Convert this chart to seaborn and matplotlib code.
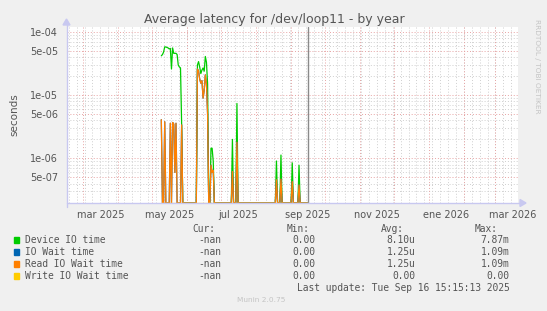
import matplotlib
matplotlib.use("Agg")
import numpy as np
import pandas as pd
import seaborn as sns
import matplotlib.pyplot as plt
from matplotlib.patches import Rectangle, Polygon
from matplotlib.lines import Line2D

# ---------------- data ----------------
series_names = ["Device IO time", "IO Wait time", "Read IO Wait time", "Write IO Wait time"]
series_colors = ["#00cc00", "#0066b3", "#ff8000", "#ffcc00"]

data_start = "2025-05-09"
data_end = "2025-09-16"

cluster1_start = "2025-05-09"
cluster1_device = [4.2e-5, 4.4e-5, 4.8e-5, 5.8e-5, 5.8e-5, 5.7e-5, 5.6e-5, 5.4e-5, 5.5e-5, 2.6e-5,
                   5.6e-5, 4.6e-5, 4.6e-5, 4.6e-5, 4.4e-5, 3.0e-5, 2.8e-5, 2.7e-5, 3.5e-6, 0.0]
cluster1_read = [4.1e-6, 0.0, 0.0, 3.8e-6, 0.0, 0.0, 0.0, 0.0, 3.6e-6, 0.0,
                 3.7e-6, 3.5e-6, 6.0e-7, 3.6e-6, 0.0, 0.0, 0.0, 0.0, 3.4e-6, 0.0]

cluster2_start = "2025-06-09"
cluster2_device = [0.0, 3.0e-5, 3.4e-5, 2.8e-5, 2.2e-5, 2.5e-5, 2.7e-5, 2.4e-5, 4.1e-5, 3.3e-5,
                   1.5e-5, 0.0, 0.0, 1.45e-6, 1.45e-6, 9.0e-7, 0.0]
cluster2_read = [0.0, 2.6e-5, 2.4e-5, 1.8e-5, 1.55e-5, 1.7e-5, 9.0e-6, 1.2e-5, 2.1e-5, 1.5e-5,
                 5.0e-6, 0.0, 0.0, 7.8e-7, 6.0e-7, 6.5e-7, 0.0]

spike_dates = ["2025-07-11", "2025-07-15", "2025-08-19", "2025-08-23", "2025-09-02", "2025-09-08"]
spike_device = [2.0e-6, 7.4e-6, 9.1e-7, 1.13e-6, 8.5e-7, 7.8e-7]
spike_read = [6.2e-7, 1.8e-6, 4.6e-7, 4.7e-7, 4.3e-7, 3.8e-7]

now_date = "2025-09-16"
x_start, x_end = "2025-02-14", "2026-03-21"
x_label_dates = ["2025-03-16", "2025-05-16", "2025-07-16", "2025-09-16",
                 "2025-11-16", "2026-01-16", "2026-03-16"]
x_label_texts = ["mar 2025", "may 2025", "jul 2025", "sep 2025", "nov 2025", "ene 2026", "mar 2026"]
y_min, y_max = 1.97e-7, 1.2e-4
y_major = [1e-4, 5e-5, 1e-5, 5e-6, 1e-6, 5e-7]

legend_cur = ["-nan", "-nan", "-nan", "-nan"]
legend_min = ["0.00", "0.00", "0.00", "0.00"]
legend_avg = ["8.10u", "1.25u", "1.25u", "0.00"]
legend_max = ["7.87m", "1.09m", "1.09m", "0.00"]

# ---------------- build series ----------------
days = pd.date_range(data_start, data_end, freq="D")
device = pd.Series(0.0, index=days)
read = pd.Series(0.0, index=days)
c1 = pd.date_range(cluster1_start, periods=len(cluster1_device), freq="D")
device[c1] = cluster1_device
read[c1] = cluster1_read
c2 = pd.date_range(cluster2_start, periods=len(cluster2_device), freq="D")
device[c2] = cluster2_device
read[c2] = cluster2_read
sd = pd.to_datetime(spike_dates)
device[sd] = spike_device
read[sd] = spike_read
iowait = read.copy()
write = pd.Series(0.0, index=days)

frames = []
for name, s in zip(series_names, [device, iowait, read, write]):
    frames.append(pd.DataFrame({"date": days, "value": s.values, "series": name}))
long = pd.concat(frames, ignore_index=True)
# zero values are shown on the bottom edge of the log axis, as rrdtool does
long["plot"] = long["value"].where(long["value"] > 0, y_min)

# ---------------- figure ----------------
sns.set_theme(style="white")
plt.rcParams["font.family"] = ["DejaVu Sans"]
W, H = 547, 311
fig = plt.figure(figsize=(W / 100, H / 100), dpi=100, facecolor="#f0f0f0")

def fx(x):
    return x / W

def fy(y):
    return 1 - y / H

L, R, T, B = 66.5, 518, 27, 203
ax = fig.add_axes([fx(L), fy(B), fx(R) - fx(L), fy(T) - fy(B)])
ax.set_facecolor("white")

grid_red = "#e7a3a3"
grid_gray = "#cfcfcf"
dot = (0, (1, 2))

ax.set_yscale("log")
ax.set_ylim(y_min, y_max)
ax.set_xlim(pd.Timestamp(x_start), pd.Timestamp(x_end))

# vertical grid: weekly gray, monthly red
for d in pd.date_range("2025-02-01", "2026-03-31", freq="W-SUN"):
    ax.axvline(d, color=grid_gray, lw=0.7, ls=dot, zorder=0)
for d in pd.date_range("2025-02-01", "2026-03-31", freq="MS"):
    ax.axvline(d, color=grid_red, lw=0.7, ls=dot, zorder=0.5)

# horizontal grid
minor = []
for dec in [1e-7, 1e-6, 1e-5, 1e-4]:
    for m in [2, 3, 4, 6, 7, 8, 9]:
        v = m * dec
        if y_min < v < y_max:
            minor.append(v)
for v in minor:
    ax.axhline(v, color=grid_gray, lw=0.7, ls=dot, zorder=0)
for v in y_major:
    ax.axhline(v, color=grid_red, lw=0.7, ls=dot, zorder=0.5)

sns.lineplot(data=long, x="date", y="plot", hue="series", hue_order=series_names,
             palette=series_colors, estimator=None, linewidth=0.9, legend=False,
             ax=ax, zorder=3)

ax.axvline(pd.Timestamp(now_date), color="#8a8a8a", lw=1.0, zorder=4)

ax.set_yticks(y_major)
ax.set_yticklabels(["%.0e" % v for v in y_major])
ax.set_yticks([], minor=True)
ax.set_xticks(pd.to_datetime(x_label_dates))
ax.set_xticklabels(x_label_texts)
ax.tick_params(axis="both", which="both", length=0, labelsize=7, colors="#555555")
ax.tick_params(axis="y", pad=6)
ax.tick_params(axis="x", pad=5)
ax.set_xlabel("")
ax.set_ylabel("seconds", fontsize=7.5, color="#555555", labelpad=8)
for sp in ax.spines.values():
    sp.set_visible(False)

# axes with arrows
axis_col = "#c8c8f0"
fig.add_artist(Line2D([fx(L), fx(R + 4)], [fy(B), fy(B)], color=axis_col, lw=1.0))
fig.add_artist(Line2D([fx(L), fx(L)], [fy(B + 4), fy(T - 3)], color=axis_col, lw=1.0))
fig.add_artist(Polygon([[fx(R + 2), fy(B - 3.5)], [fx(R + 2), fy(B + 3.5)], [fx(R + 8), fy(B)]],
                       closed=True, color=axis_col, transform=fig.transFigure))
fig.add_artist(Polygon([[fx(L - 3.5), fy(T - 2)], [fx(L + 3.5), fy(T - 2)], [fx(L), fy(T - 8)]],
                       closed=True, color=axis_col, transform=fig.transFigure))

# title and side text
fig.text(fx(274), fy(20), "Average latency for /dev/loop11 - by year",
         ha="center", va="center", fontsize=9, color="#555555")
fig.text(fx(537), fy(66), "RRDTOOL / TOBI OETIKER", rotation=270, ha="center", va="center",
         fontsize=5.3, color="#c4c4c4")

# legend block
mono = "DejaVu Sans Mono"
lfs = 6.9
lc = "#555555"
fig.text(fx(215), fy(228.5), "Cur:", ha="right", va="center", fontsize=lfs, family=mono, color=lc)
fig.text(fx(309.5), fy(228.5), "Min:", ha="right", va="center", fontsize=lfs, family=mono, color=lc)
fig.text(fx(403.5), fy(228.5), "Avg:", ha="right", va="center", fontsize=lfs, family=mono, color=lc)
fig.text(fx(497.5), fy(228.5), "Max:", ha="right", va="center", fontsize=lfs, family=mono, color=lc)
for i, name in enumerate(series_names):
    yy = 240 + 12 * i
    fig.add_artist(Rectangle((fx(13.5), fy(yy + 2.7)), fx(5.4), 5.4 / H,
                             color=series_colors[i], transform=fig.transFigure))
    fig.text(fx(25), fy(yy), name, ha="left", va="center", fontsize=lfs, family=mono, color=lc)
    fig.text(fx(221.7), fy(yy), legend_cur[i], ha="right", va="center", fontsize=lfs, family=mono, color=lc)
    fig.text(fx(315.3), fy(yy), legend_min[i], ha="right", va="center", fontsize=lfs, family=mono, color=lc)
    fig.text(fx(415.3), fy(yy), legend_avg[i], ha="right", va="center", fontsize=lfs, family=mono, color=lc)
    fig.text(fx(509.3), fy(yy), legend_max[i], ha="right", va="center", fontsize=lfs, family=mono, color=lc)
fig.text(fx(509.3), fy(288), "Last update: Tue Sep 16 15:15:13 2025", ha="right", va="center",
         fontsize=lfs, family=mono, color=lc)
fig.text(fx(261), fy(300.5), "Munin 2.0.75", ha="center", va="center", fontsize=5.3, color="#c4c4c4")

fig.savefig("out.png", dpi=100, facecolor=fig.get_facecolor())
